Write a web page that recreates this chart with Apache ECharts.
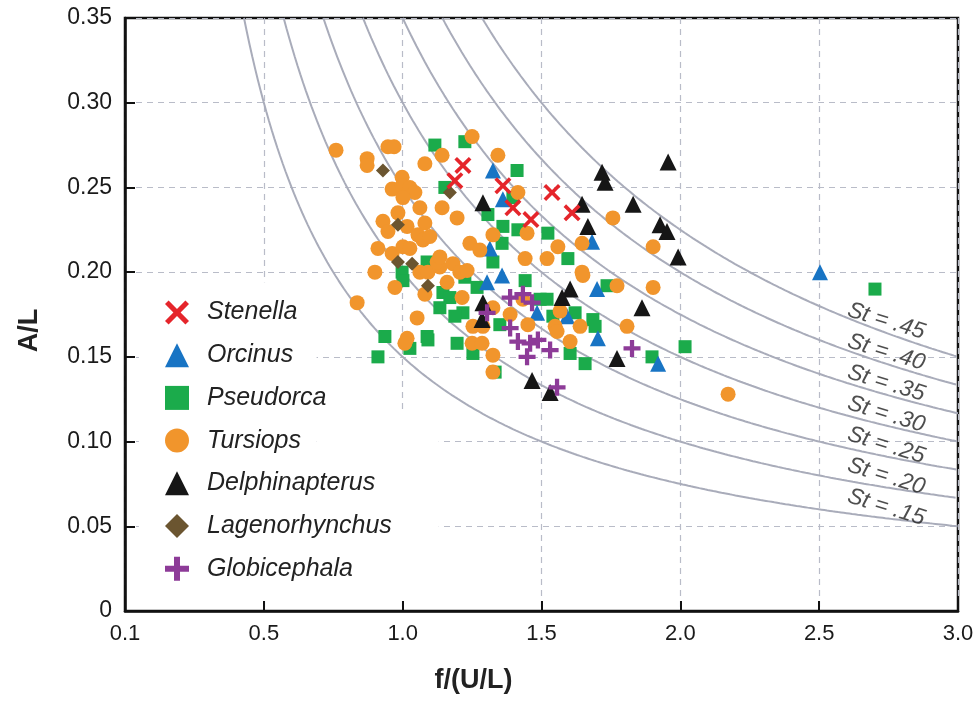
<!DOCTYPE html>
<html>
<head>
<meta charset="utf-8">
<script src="https://cdn.jsdelivr.net/npm/echarts@6/dist/echarts.min.js"></script>
<style>
html, body { margin: 0; padding: 0; background: #fff; }
#main { width: 979px; height: 706px; }
</style>
</head>
<body>
<div id="main"></div>
<script>
// Strouhal number curves  A/L = St / (f/(U/L))
var stValues = [0.15, 0.20, 0.25, 0.30, 0.35, 0.40, 0.45];
var xTicks = ['0.1', '0.5', '1.0', '1.5', '2.0', '2.5', '3.0'];
var yTicks = ['0', '0.05', '0.10', '0.15', '0.20', '0.25', '0.30', '0.35'];

var stenella = [[1.217,0.263],[1.188,0.254],[1.361,0.251],[1.538,0.247],[1.610,0.235],
    [1.462,0.231],[1.397,0.238]];
var orcinus = [[1.325,0.260],[1.361,0.243],[1.314,0.214],[1.358,0.198],[1.304,0.194],
    [1.484,0.176],[1.592,0.174],[1.682,0.218],[1.700,0.190],[1.703,0.161],[1.920,0.146],
    [2.503,0.200]];
var pseudorca = [[1.116,0.275],[1.224,0.277],[1.152,0.250],[1.412,0.260],[1.397,0.244],
    [1.523,0.223],[1.415,0.225],[1.307,0.234],[1.361,0.227],[0.998,0.200],[1.088,0.206],
    [1.001,0.195],[1.145,0.188],[1.170,0.185],[1.134,0.179],[1.217,0.176],[1.188,0.174],
    [0.936,0.162],[1.088,0.162],[1.595,0.208],[1.441,0.195],[1.495,0.184],[1.520,0.184],
    [1.224,0.197],[1.268,0.191],[1.325,0.206],[1.358,0.217],[1.541,0.174],[1.350,0.169],
    [1.621,0.176],[0.911,0.150],[1.026,0.155],[1.091,0.160],[1.196,0.158],[1.253,0.152],
    [1.333,0.141],[1.603,0.152],[1.657,0.146],[1.736,0.192],[1.685,0.172],[1.693,0.168],
    [1.898,0.150],[2.017,0.156],[2.701,0.190]];
var tursiops = [[0.760,0.272],[0.872,0.267],[0.872,0.263],[0.947,0.274],[0.969,0.274],
    [1.080,0.264],[0.998,0.256],[0.962,0.249],[0.998,0.251],[1.026,0.250],[1.044,0.247],
    [1.001,0.244],[0.929,0.230],[0.947,0.224],[0.983,0.235],[1.062,0.238],[1.142,0.238],
    [1.142,0.269],[1.196,0.232],[1.080,0.229],[1.016,0.227],[1.250,0.280],[1.343,0.269],
    [1.415,0.247],[0.911,0.214],[0.962,0.211],[1.001,0.215],[1.026,0.214],[0.900,0.200],
    [0.972,0.191],[0.836,0.182],[1.052,0.173],[1.016,0.161],[1.062,0.200],[1.091,0.200],
    [1.134,0.203],[1.160,0.194],[1.214,0.185],[1.124,0.206],[1.181,0.205],[1.080,0.187],
    [1.055,0.222],[1.073,0.219],[1.098,0.221],[1.134,0.209],[1.206,0.200],[1.325,0.222],
    [1.448,0.223],[1.559,0.215],[1.646,0.217],[1.441,0.208],[1.520,0.208],[1.646,0.200],
    [1.325,0.179],[1.433,0.184],[1.567,0.177],[1.253,0.168],[1.289,0.168],[1.387,0.175],
    [1.451,0.169],[1.549,0.168],[1.639,0.168],[1.242,0.217],[1.278,0.213],[1.232,0.201],
    [1.008,0.158],[1.250,0.158],[1.286,0.158],[1.325,0.151],[1.325,0.141],[1.603,0.159],
    [1.556,0.165],[1.757,0.232],[1.902,0.215],[1.649,0.198],[1.772,0.192],[1.902,0.191],
    [1.808,0.168],[2.172,0.128]];
var delphinapterus = [[1.956,0.265],[1.718,0.259],[1.729,0.253],[1.830,0.240],[1.927,0.228],
    [1.952,0.224],[1.992,0.209],[1.646,0.240],[1.667,0.227],[1.289,0.241],[1.289,0.182],
    [1.603,0.190],[1.574,0.185],[1.286,0.172],[1.862,0.179],[1.772,0.149],[1.466,0.136],
    [1.531,0.129]];
var lagenorhynchus = [[0.929,0.260],[1.170,0.247],[0.983,0.206],[1.034,0.205],[1.091,0.192],
    [0.983,0.228]];
var globicephala = [[1.387,0.185],[1.433,0.187],[1.466,0.182],[1.304,0.176],[1.387,0.167],
    [1.415,0.159],[1.459,0.158],[1.487,0.160],[1.531,0.154],[1.448,0.150],[1.556,0.132],
    [1.826,0.155]];

var crossPath = 'path://M3,0 L10,7 L17,0 L20,3 L13,10 L20,17 L17,20 L10,13 L3,20 L0,17 L7,10 L0,3 Z';
var plusPath = 'path://M7.5,0 H12.5 V7.5 H20 V12.5 H12.5 V20 H7.5 V12.5 H0 V7.5 H7.5 Z';

var myChart = echarts.init(document.getElementById('main'));

function curve(st) {
    var pts = [];
    var x0 = st / 0.35;
    for (var x = x0; x < 3.0001; x += 0.01) {
        pts.push([x, st / x]);
    }
    return pts;
}

var series = [];
stValues.forEach(function(st) {
    series.push({
        type: 'line', data: curve(st), showSymbol: false, silent: true, z: 1.5,
        lineStyle: { color: '#a9acba', width: 2 }
    });
});
series.push({
    type: 'scatter', silent: true, z: 6, symbolSize: 0,
    data: stValues.map(function(st) { return [2.73, st / 2.73, st]; }),
    label: {
        show: true, position: 'inside', offset: [0, -11], rotate: -17,
        fontSize: 23, fontStyle: 'italic', color: '#222', fontFamily: 'Liberation Sans',
        formatter: function(p) { return 'St = ' + p.data[2].toFixed(2).slice(1); }
    }
});

function pts(name, data, symbol, size, color, z) {
    return { name: name, type: 'scatter', data: data, symbol: symbol, symbolSize: size,
        itemStyle: { color: color, opacity: 1 }, z: z };
}
series.push(pts('Pseudorca', pseudorca, 'rect', 13, '#1bab4b', 2));
series.push(pts('Orcinus', orcinus, 'triangle', 16, '#1874c4', 3));
series.push(pts('Tursiops', tursiops, 'circle', 15, '#f1952c', 4));
series.push(pts('Lagenorhynchus', lagenorhynchus, 'diamond', 14, '#6b5530', 5));
series.push(pts('Delphinapterus', delphinapterus, 'triangle', 17, '#161616', 5));
series.push(pts('Globicephala', globicephala, plusPath, 17, '#8d3b98', 5));
series.push(pts('Stenella', stenella, crossPath, 17, '#e5252b', 5));

var option = {
    animation: false,
    backgroundColor: '#fff',
    textStyle: { fontFamily: 'Liberation Sans' },
    grid: { left: 125, right: 21, top: 18, bottom: 95, show: true, borderColor: '#111', borderWidth: 2.5 },
    legend: {
        orient: 'vertical', left: 160, top: 295,
        data: ['Stenella', 'Orcinus', 'Pseudorca', 'Tursiops', 'Delphinapterus', 'Lagenorhynchus', 'Globicephala'],
        itemWidth: 24, itemHeight: 24, itemGap: 17.7,
        textStyle: { fontSize: 25, fontStyle: 'italic', color: '#222', fontFamily: 'Liberation Sans',
            padding: [0, 0, 0, 13] }
    },
    xAxis: {
        type: 'value', min: 0, max: 3, interval: 0.5,
        name: 'f/(U/L)', nameLocation: 'middle', nameGap: 56,
        nameTextStyle: { fontSize: 27, fontWeight: 'bold', color: '#222', padding: [0, 136, 0, 0] },
        axisLine: { lineStyle: { color: '#111', width: 2.5 } },
        axisTick: { inside: true, length: 10, lineStyle: { color: '#111', width: 2 } },
        axisLabel: { fontSize: 22, color: '#1a1a1a', margin: 12,
            formatter: function(v) { return xTicks[Math.round(v / 0.5)]; } },
        splitLine: { lineStyle: { color: '#b9bcc8', type: [6, 5], width: 1.2 } }
    },
    yAxis: {
        type: 'value', min: 0, max: 0.35, interval: 0.05,
        name: 'A/L', nameLocation: 'middle', nameGap: 82,
        nameTextStyle: { fontSize: 27, fontWeight: 'bold', color: '#222', padding: [0, 32, 0, 0] },
        axisLine: { lineStyle: { color: '#111', width: 2.5 } },
        axisTick: { inside: true, length: 10, lineStyle: { color: '#111', width: 2 } },
        axisLabel: { fontSize: 23, color: '#1a1a1a', margin: 13,
            formatter: function(v) { return yTicks[Math.round(v / 0.05)]; } },
        splitLine: { lineStyle: { color: '#b9bcc8', type: [6, 5], width: 1.2 } }
    },
    series: series
};
myChart.setOption(option);

// white patch behind the legend hides the grid lines there
var maskBoxes = [[0.05, 0.69, 0.008, 0.194], [0.69, 1.13, 0.008, 0.117]];
myChart.setOption({
    graphic: maskBoxes.map(function(b) {
        var p1 = myChart.convertToPixel({ gridIndex: 0 }, [b[0], b[3]]);
        var p2 = myChart.convertToPixel({ gridIndex: 0 }, [b[1], b[2]]);
        return { type: 'rect', z: 1, silent: true,
            shape: { x: p1[0], y: p1[1], width: p2[0] - p1[0], height: p2[1] - p1[1] },
            style: { fill: '#fff' } };
    })
});
</script>
</body>
</html>
